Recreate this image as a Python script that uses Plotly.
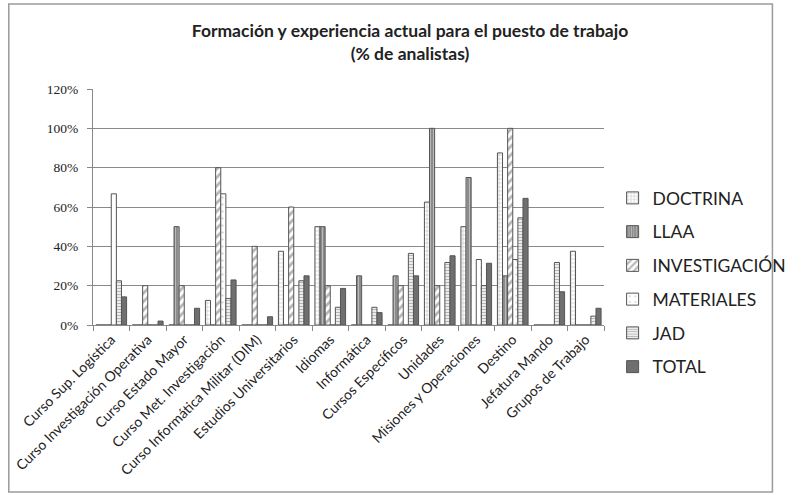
import plotly.graph_objects as go

# Categories on the x axis
categories = [
    "Curso Sup. Logística",
    "Curso Investigación Operativa",
    "Curso Estado Mayor",
    "Curso Met. Investigación",
    "Curso Informática Militar (DIM)",
    "Estudios Universitarios",
    "Idiomas",
    "Informática",
    "Cursos Específicos",
    "Unidades",
    "Misiones y Operaciones",
    "Destino",
    "Jefatura Mando",
    "Grupos de Trabajo",
]

# Percentage of analysts per unit (0 = no bar)
doctrina      = [0, 0, 0, 12.5, 0, 37.5, 50, 0, 0, 62.5, 50, 87.5, 0, 37.5]
llaa          = [0, 0, 50, 0, 0, 0, 50, 25, 25, 100, 75, 25, 0, 0]
investigacion = [0, 20, 20, 80, 40, 60, 20, 0, 20, 20, 0, 100, 0, 0]
materiales    = [66.7, 0, 0, 66.7, 0, 0, 0, 0, 0, 0, 33.3, 33.3, 0, 0]
jad           = [22.5, 0, 0, 13.5, 0, 22.5, 9, 9, 36.4, 31.8, 20, 54.5, 31.8, 4.5]
total         = [14.3, 2, 8.5, 22.9, 4.2, 25, 18.6, 6.3, 25, 35.2, 31.4, 64.4, 16.9, 8.5]

y_ticks = [0, 20, 40, 60, 80, 100, 120]
y_tick_labels = ["0%", "20%", "40%", "60%", "80%", "100%", "120%"]

series = [
    ("DOCTRINA", doctrina, dict(color="#ffffff",
        pattern=dict(shape="+", fgcolor="#777777", bgcolor="#ffffff", size=4, solidity=0.25))),
    ("LLAA", llaa, dict(color="#8c8c8c",
        pattern=dict(shape="|", fgcolor="#e6e6e6", bgcolor="#8c8c8c", size=3, solidity=0.35))),
    ("INVESTIGACIÓN", investigacion, dict(color="#ffffff",
        pattern=dict(shape="/", fgcolor="#6a6a6a", bgcolor="#ffffff", size=6, solidity=0.45))),
    ("MATERIALES", materiales, dict(color="#ffffff",
        pattern=dict(shape=".", fgcolor="#9a9a9a", bgcolor="#ffffff", size=7, solidity=0.08))),
    ("JAD", jad, dict(color="#ffffff",
        pattern=dict(shape="-", fgcolor="#6e6e6e", bgcolor="#ffffff", size=3, solidity=0.5))),
    ("TOTAL", total, dict(color="#6f6f6f")),
]

fig = go.Figure()
for i, (name, values, marker) in enumerate(series):
    marker = dict(marker)
    marker["line"] = dict(color="#555555", width=1)
    fig.add_trace(go.Bar(
        name=name,
        x=categories,
        y=values,
        marker=marker,
        legendgroup=f"g{i}",
    ))

W, H = 804, 495
ml, mr, mt, mb = 91, 179, 89, 170
pw, ph = W - ml - mr, H - mt - mb

fig.update_layout(
    width=W,
    height=H,
    margin=dict(l=ml, r=mr, t=mt, b=mb),
    paper_bgcolor="#ffffff",
    plot_bgcolor="#ffffff",
    barmode="group",
    bargap=0.16,
    bargroupgap=0,
    title=dict(
        text="<b>Formación y experiencia actual para el puesto de trabajo<br>(% de analistas)</b>",
        x=410 / W,
        xanchor="center",
        y=1 - 37 / H,
        yanchor="top",
        font=dict(family="Lato, Open Sans, sans-serif", size=17.5, color="#222222"),
    ),
    legend=dict(
        x=(634 - ml) / pw,
        xanchor="left",
        y=(mt + ph - 180) / ph,
        yanchor="top",
        font=dict(family="Lato, Open Sans, sans-serif", size=17.5, color="#222222"),
        tracegroupgap=8,
        bgcolor="rgba(0,0,0,0)",
        itemwidth=30,
    ),
    showlegend=True,
    xaxis=dict(
        type="category",
        tickson="boundaries",
        ticks="outside",
        ticklen=5,
        tickcolor="#888888",
        showgrid=False,
        showline=True,
        linecolor="#888888",
        tickangle=-45,
        tickfont=dict(family="Lato, Open Sans, sans-serif", size=14, color="#222222"),
    ),
    yaxis=dict(
        range=[0, 120],
        tickvals=y_ticks,
        ticktext=y_tick_labels,
        ticks="outside",
        ticklen=5,
        ticklabelstandoff=6,
        tickcolor="#888888",
        showgrid=True,
        gridcolor="#8a8a8a",
        gridwidth=1,
        showline=True,
        linecolor="#888888",
        zeroline=False,
        tickfont=dict(family="Liberation Serif, serif", size=13.5, color="#222222"),
    ),
)

# Outer frame around the whole chart
fig.add_shape(
    type="rect",
    xref="paper", yref="paper",
    x0=(3 - ml) / pw, x1=(801 - ml) / pw,
    y0=(mt + ph - 492) / ph, y1=(mt + ph - 4) / ph,
    line=dict(color="#9a9a9a", width=1.5),
    fillcolor="rgba(0,0,0,0)",
    layer="below",
)

fig.write_html("out.html")
